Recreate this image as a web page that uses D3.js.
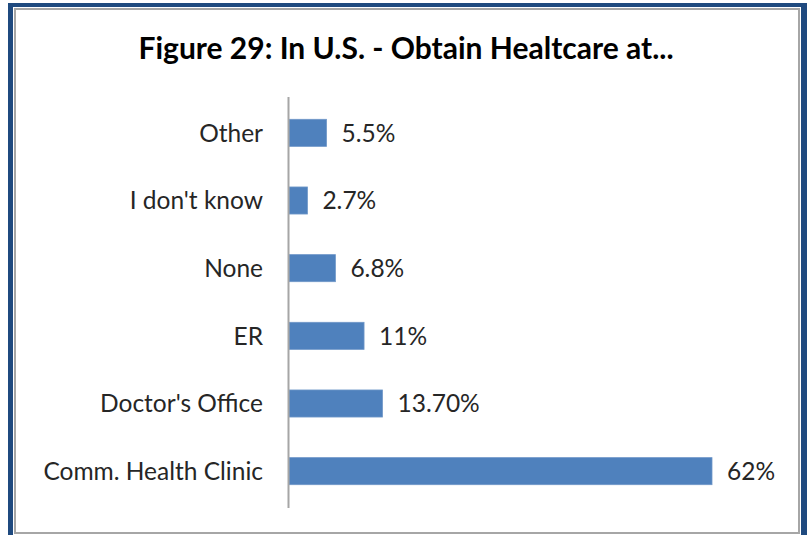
<!DOCTYPE html>
<html>
<head>
<meta charset="utf-8">
<script src="https://cdn.jsdelivr.net/npm/d3@7"></script>
<style>
  body { margin: 0; background: #fff; }
  svg { display: block; }
</style>
</head>
<body>
<div id="chart"></div>
<script>
// values (top to bottom)
const categories = ["Other", "I don't know", "None", "ER", "Doctor's Office", "Comm. Health Clinic"];
const values = [5.5, 2.7, 6.8, 11, 13.7, 62];
const valueLabels = ["5.5%", "2.7%", "6.8%", "11%", "13.70%", "62%"];
const title = "Figure 29: In U.S. - Obtain Healtcare at...";

const width = 807, height = 535;
const font = "Lato, 'Open Sans', sans-serif";

const svg = d3.select("#chart")
    .append("svg")
    .attr("width", width)
    .attr("height", height);

// frame: dark blue outer border, thin white gap, gray inner line
svg.append("rect")
    .attr("x", 8).attr("y", 3)
    .attr("width", width - 8).attr("height", height)
    .attr("fill", "#1f4a7f");
svg.append("rect")
    .attr("x", 13).attr("y", 7)
    .attr("width", 788).attr("height", height)
    .attr("fill", "#fff");
svg.append("rect")
    .attr("x", 15).attr("y", 9)
    .attr("width", 784).attr("height", 524)
    .attr("fill", "#fff")
    .attr("stroke", "#a6a6a6")
    .attr("stroke-width", 2);

svg.append("text")
    .attr("x", 406)
    .attr("y", 59)
    .attr("text-anchor", "middle")
    .attr("font-family", font)
    .attr("font-weight", "bold")
    .attr("font-size", 30)
    .attr("fill", "#000")
    .text(title);

const x0 = 289;
const x = d3.scaleLinear()
    .domain([0, 62])
    .range([x0, 712]);

const y = d3.scaleBand()
    .domain(categories)
    .range([99, 505])
    .paddingInner(0.6)
    .paddingOuter(0.3);

const g = svg.append("g");

g.selectAll(".bar")
    .data(categories)
    .enter()
    .append("rect")
    .attr("class", "bar")
    .attr("x", x(0))
    .attr("y", d => y(d))
    .attr("width", (d, i) => x(values[i]) - x(0))
    .attr("height", y.bandwidth())
    .attr("fill", "#4f81bd")
    .attr("stroke", "#6f97c8")
    .attr("stroke-width", 0.8);

g.selectAll(".cat")
    .data(categories)
    .enter()
    .append("text")
    .attr("class", "cat")
    .attr("x", x0 - 26)
    .attr("y", d => y(d) + y.bandwidth() / 2)
    .attr("dy", "0.36em")
    .attr("text-anchor", "end")
    .attr("font-family", font)
    .attr("font-size", 24.5)
    .attr("fill", "#262626")
    .text(d => d);

g.selectAll(".val")
    .data(categories)
    .enter()
    .append("text")
    .attr("class", "val")
    .attr("x", (d, i) => x(values[i]) + 15)
    .attr("y", d => y(d) + y.bandwidth() / 2)
    .attr("dy", "0.36em")
    .attr("font-family", font)
    .attr("font-size", 24.5)
    .attr("fill", "#262626")
    .text((d, i) => valueLabels[i]);

// vertical axis line
svg.append("line")
    .attr("x1", x0 - 0.5).attr("x2", x0 - 0.5)
    .attr("y1", 97).attr("y2", 508)
    .attr("stroke", "#a6a6a6")
    .attr("stroke-width", 2);
</script>
</body>
</html>
